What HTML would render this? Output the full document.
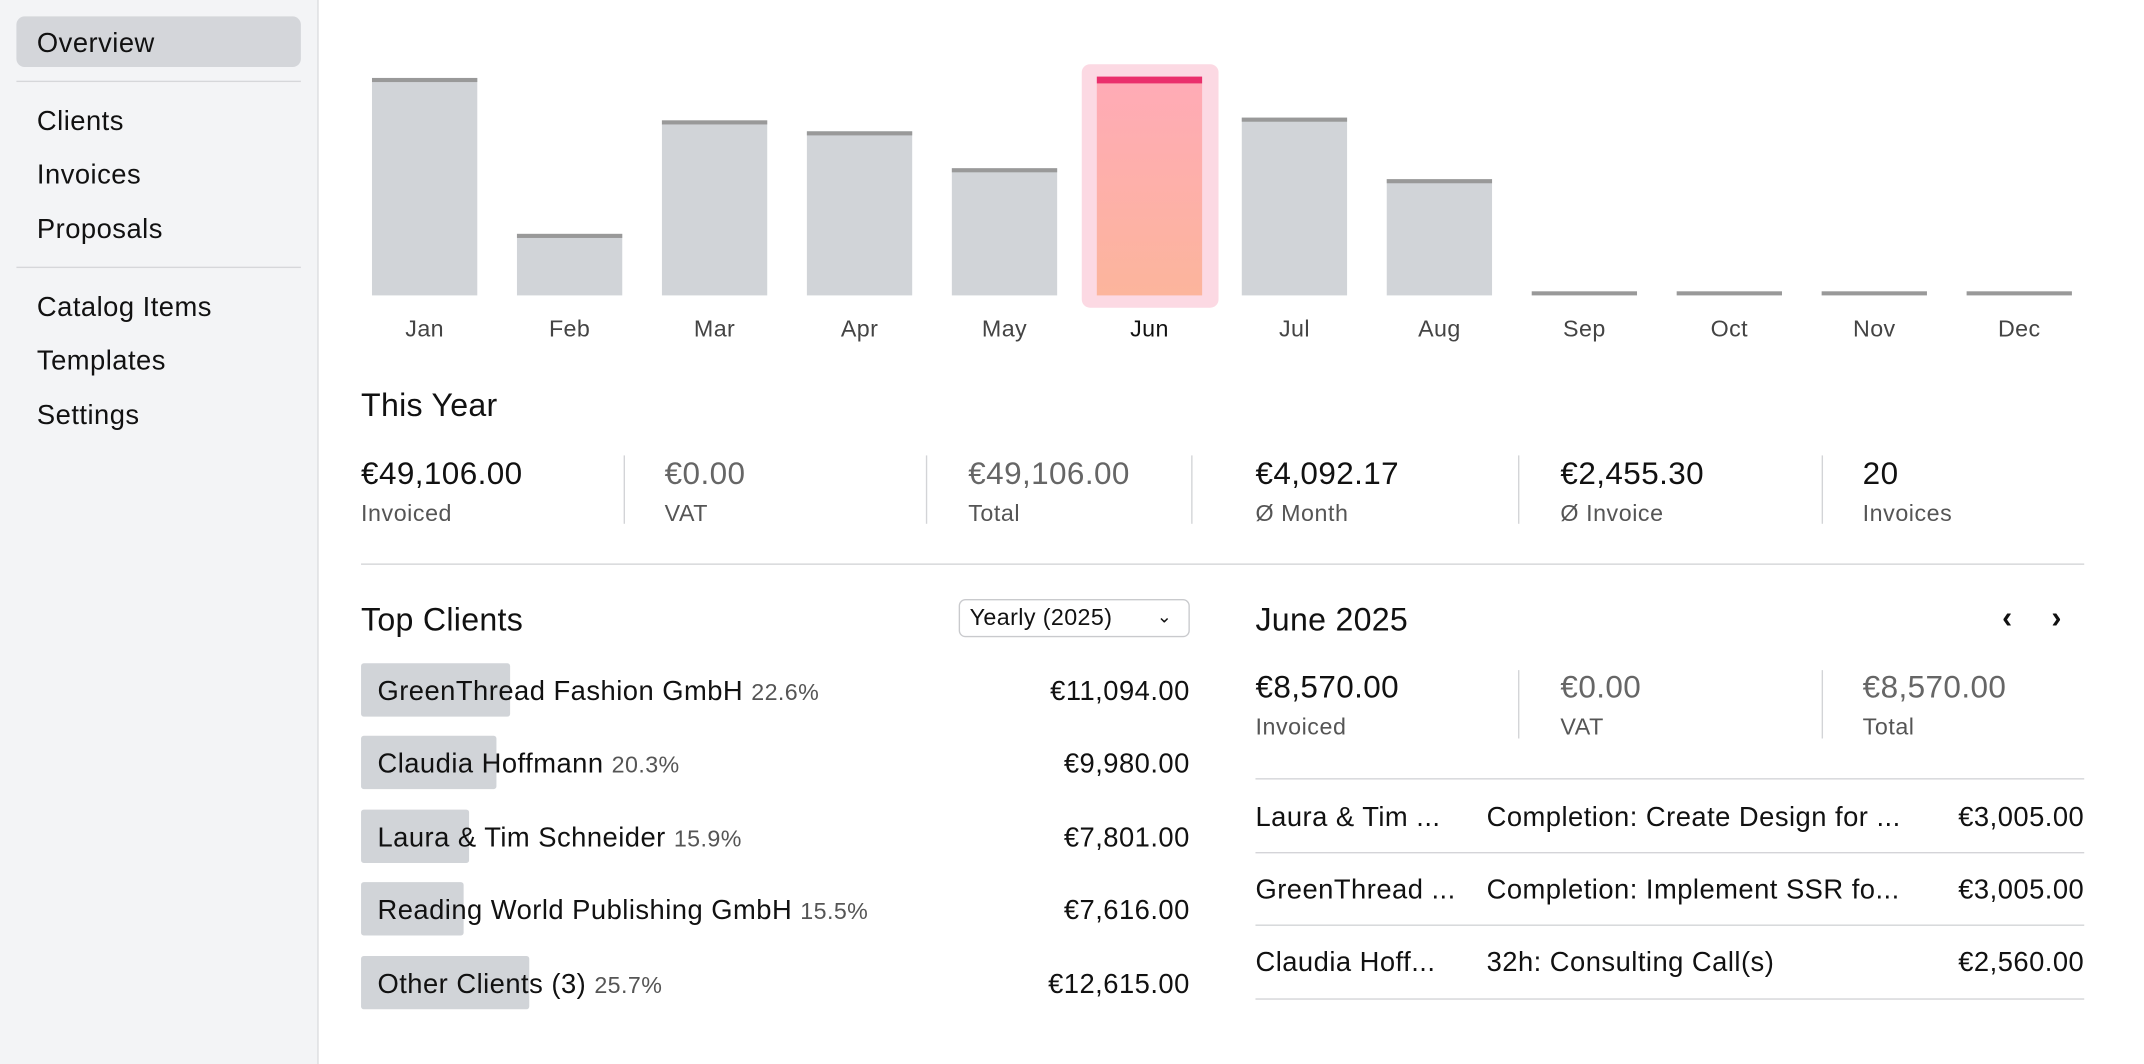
<!DOCTYPE html>
<html><head><meta charset="utf-8"><style>
*{margin:0;padding:0;box-sizing:border-box}
html,body{width:2144px;height:1064px;overflow:hidden;background:#fff}
#w{position:absolute;left:0;top:0;width:1568px;height:778px;transform-origin:0 0;transform:scale(1.3676);font-family:"Liberation Sans",sans-serif;color:#111}
.a{position:absolute;white-space:nowrap}
.sb{position:absolute;left:0;top:0;width:233px;height:778px;background:#f3f4f6;border-right:1px solid #dcdde0}
.nav{position:absolute;left:27px;font-size:20px;letter-spacing:.35px;line-height:24px;transform:translateY(-11px)}
.sep{position:absolute;left:12px;width:208px;height:1px;background:#d6d7da}
.bar{position:absolute;width:77px;background:#d1d4d8;border-top:3px solid #999;bottom:562px}
.ml{position:absolute;width:77px;text-align:center;font-size:17px;letter-spacing:.3px;color:#444;top:231px}
.v{font-size:23px;letter-spacing:.3px;line-height:26px;transform:translateY(-13px)}
.l{font-size:17px;letter-spacing:.4px;color:#555;line-height:20px;transform:translateY(-9px)}
.dv{position:absolute;width:1px;background:#d3d4d7}
.t{font-size:20px;letter-spacing:.35px;line-height:24px;transform:translateY(-11px)}
.p{font-size:17px;color:#555;letter-spacing:.3px}
.hl{position:absolute;height:1px;background:#d3d4d7}
.h{font-size:23.5px;letter-spacing:.2px}
</style></head><body><div id="w">
<div class="sb"></div>
<div class="a" style="left:12px;top:12px;width:208px;height:37px;background:#d4d6da;border-radius:6px"></div>
<div class="nav" style="top:31px">Overview</div>
<div class="sep" style="top:59px"></div>
<div class="nav" style="top:88px">Clients</div>
<div class="nav" style="top:127px">Invoices</div>
<div class="nav" style="top:167px">Proposals</div>
<div class="sep" style="top:195px"></div>
<div class="nav" style="top:224px">Catalog Items</div>
<div class="nav" style="top:263px">Templates</div>
<div class="nav" style="top:303px">Settings</div>

<div class="a" style="left:791px;top:47px;width:100px;height:178px;background:#fcd9e3;border-radius:6px"></div>
<div class="bar" style="left:272px;top:57px"></div>
<div class="bar" style="left:378px;top:171px"></div>
<div class="bar" style="left:484px;top:88px"></div>
<div class="bar" style="left:590px;top:96px"></div>
<div class="bar" style="left:696px;top:123px"></div>
<div class="bar" style="left:802px;top:56px;border-top:5px solid #ea2f6c;background:linear-gradient(#ffabb6,#fcb59c)"></div>
<div class="bar" style="left:908px;top:86px"></div>
<div class="bar" style="left:1014px;top:131px"></div>
<div class="bar" style="left:1120px;top:213px;background:none"></div>
<div class="bar" style="left:1226px;top:213px;background:none"></div>
<div class="bar" style="left:1332px;top:213px;background:none"></div>
<div class="bar" style="left:1438px;top:213px;background:none"></div>
<div class="ml" style="left:272px">Jan</div><div class="ml" style="left:378px">Feb</div><div class="ml" style="left:484px">Mar</div><div class="ml" style="left:590px">Apr</div><div class="ml" style="left:696px">May</div><div class="ml" style="left:802px;color:#111">Jun</div><div class="ml" style="left:908px">Jul</div><div class="ml" style="left:1014px">Aug</div><div class="ml" style="left:1120px">Sep</div><div class="ml" style="left:1226px">Oct</div><div class="ml" style="left:1332px">Nov</div><div class="ml" style="left:1438px">Dec</div>

<div class="a v h" style="left:264px;top:296px">This Year</div>
<div class="a v" style="left:264px;top:346px">€49,106.00</div><div class="a l" style="left:264px;top:375px">Invoiced</div>
<div class="a v" style="left:486px;top:346px;color:#666">€0.00</div><div class="a l" style="left:486px;top:375px">VAT</div>
<div class="a v" style="left:708px;top:346px;color:#666">€49,106.00</div><div class="a l" style="left:708px;top:375px">Total</div>
<div class="a v" style="left:918px;top:346px">€4,092.17</div><div class="a l" style="left:918px;top:375px">Ø Month</div>
<div class="a v" style="left:1141px;top:346px">€2,455.30</div><div class="a l" style="left:1141px;top:375px">Ø Invoice</div>
<div class="a v" style="left:1362px;top:346px">20</div><div class="a l" style="left:1362px;top:375px">Invoices</div>
<div class="dv" style="left:456px;top:333px;height:50px"></div><div class="dv" style="left:677px;top:333px;height:50px"></div><div class="dv" style="left:871px;top:333px;height:50px"></div><div class="dv" style="left:1110px;top:333px;height:50px"></div><div class="dv" style="left:1332px;top:333px;height:50px"></div>
<div class="hl" style="left:264px;top:412px;width:1260px"></div>

<div class="a v h" style="left:264px;top:453px">Top Clients</div>
<div class="a" style="left:701px;top:438px;width:169px;height:28px;border:1px solid #c9cacd;border-radius:5px;font-size:17px;letter-spacing:.3px;line-height:26px;padding-left:7px">Yearly (2025)<span style="position:absolute;right:12px;top:-1px;font-size:13px">&#8964;</span></div>
<div class="a" style="left:264px;top:485px;width:109px;height:39px;background:#d1d4d8;border-radius:2px"></div>
<div class="a" style="left:264px;top:538px;width:99px;height:39px;background:#d1d4d8;border-radius:2px"></div>
<div class="a" style="left:264px;top:592px;width:79px;height:39px;background:#d1d4d8;border-radius:2px"></div>
<div class="a" style="left:264px;top:645px;width:75px;height:39px;background:#d1d4d8;border-radius:2px"></div>
<div class="a" style="left:264px;top:699px;width:123px;height:39px;background:#d1d4d8;border-radius:2px"></div>
<div class="a t" style="left:276px;top:505px">GreenThread Fashion GmbH <span class="p">22.6%</span></div>
<div class="a t" style="left:276px;top:558px">Claudia Hoffmann <span class="p">20.3%</span></div>
<div class="a t" style="left:276px;top:612px">Laura &amp; Tim Schneider <span class="p">15.9%</span></div>
<div class="a t" style="left:276px;top:665px">Reading World Publishing GmbH <span class="p">15.5%</span></div>
<div class="a t" style="left:276px;top:719px">Other Clients (3) <span class="p">25.7%</span></div>
<div class="a t" style="right:698px;top:505px">€11,094.00</div>
<div class="a t" style="right:698px;top:558px">€9,980.00</div>
<div class="a t" style="right:698px;top:612px">€7,801.00</div>
<div class="a t" style="right:698px;top:665px">€7,616.00</div>
<div class="a t" style="right:698px;top:719px">€12,615.00</div>

<div class="a v h" style="left:918px;top:453px">June 2025</div>
<div class="a" style="left:1464px;top:439px;font-size:22px;font-weight:bold">&#8249;</div>
<div class="a" style="left:1500px;top:439px;font-size:22px;font-weight:bold">&#8250;</div>
<div class="a v" style="left:918px;top:502px">€8,570.00</div><div class="a l" style="left:918px;top:531px">Invoiced</div>
<div class="a v" style="left:1141px;top:502px;color:#666">€0.00</div><div class="a l" style="left:1141px;top:531px">VAT</div>
<div class="a v" style="left:1362px;top:502px;color:#666">€8,570.00</div><div class="a l" style="left:1362px;top:531px">Total</div>
<div class="dv" style="left:1110px;top:490px;height:50px"></div><div class="dv" style="left:1332px;top:490px;height:50px"></div>
<div class="hl" style="left:918px;top:569px;width:606px"></div>
<div class="hl" style="left:918px;top:623px;width:606px"></div>
<div class="hl" style="left:918px;top:676px;width:606px"></div>
<div class="hl" style="left:918px;top:730px;width:606px"></div>
<div class="a t" style="left:918px;top:597px">Laura &amp; Tim ...</div>
<div class="a t" style="left:1087px;top:597px">Completion: Create Design for ...</div>
<div class="a t" style="right:44px;top:597px">€3,005.00</div>
<div class="a t" style="left:918px;top:650px">GreenThread ...</div>
<div class="a t" style="left:1087px;top:650px">Completion: Implement SSR fo...</div>
<div class="a t" style="right:44px;top:650px">€3,005.00</div>
<div class="a t" style="left:918px;top:703px">Claudia Hoff...</div>
<div class="a t" style="left:1087px;top:703px">32h: Consulting Call(s)</div>
<div class="a t" style="right:44px;top:703px">€2,560.00</div>
</div></body></html>
